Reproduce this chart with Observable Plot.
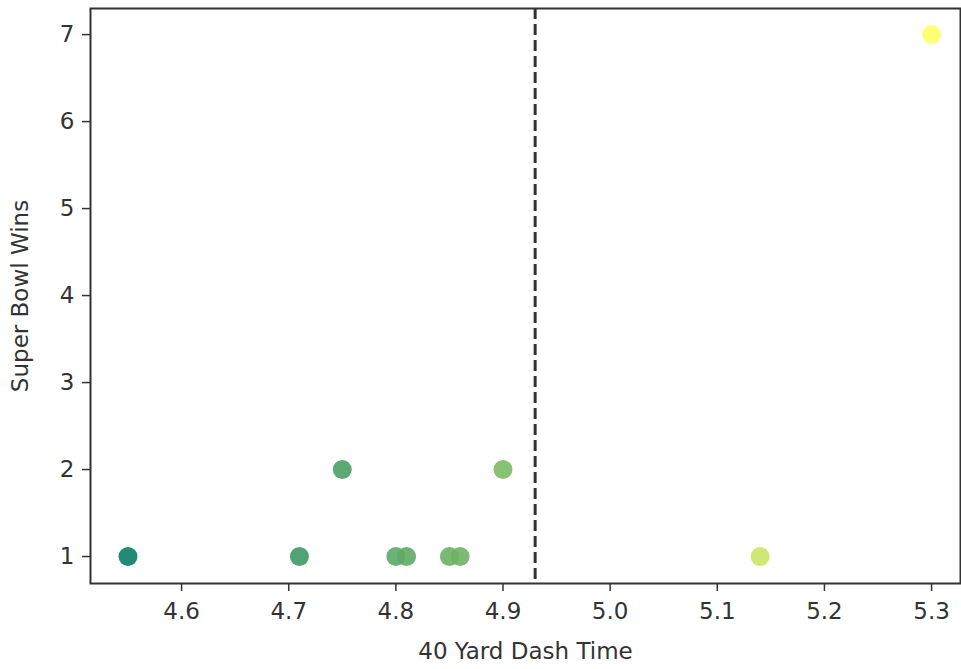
<!DOCTYPE html>
<html>
<head>
<meta charset="utf-8">
<script src="https://cdn.jsdelivr.net/npm/d3@7"></script>
<script src="https://cdn.jsdelivr.net/npm/@observablehq/plot@0.6"></script>
<style>
  html, body { margin: 0; padding: 0; background: #fff; }
</style>
</head>
<body>
<div id="chart"></div>
<script>
const dashTimes = [4.55, 4.71, 4.75, 4.80, 4.81, 4.85, 4.86, 4.90, 5.14, 5.30];
const superBowlWins = [1, 1, 2, 1, 1, 1, 1, 2, 1, 7];
const thresholdTime = [4.93];
const xTicks = [4.6, 4.7, 4.8, 4.9, 5.0, 5.1, 5.2, 5.3];
const yTicks = [1, 2, 3, 4, 5, 6, 7];

const data = dashTimes.map((t, i) => ({time: t, wins: superBowlWins[i]}));

const chart = Plot.plot({
  width: 961,
  height: 669,
  marginLeft: 90,
  marginTop: 8,
  marginBottom: 86,
  marginRight: 1,
  style: {fontFamily: "DejaVu Sans", fontSize: "23px", color: "#333", background: "#fff"},
  x: {domain: [4.515, 5.327]},
  y: {domain: [0.69, 7.3]},
  color: {type: "linear", domain: [4.55, 5.3], range: ["#0a7d66", "#ffff66"], interpolate: "rgb"},
  marks: [
    Plot.axisX({ticks: xTicks, tickFormat: d3.format(".1f"), tickSize: 8, tickPadding: 11, strokeWidth: 1.5,
      label: "40 Yard Dash Time", labelAnchor: "center", labelArrow: "none", labelOffset: 75}),
    Plot.axisY({ticks: yTicks, tickFormat: d3.format("d"), tickSize: 8, tickPadding: 8, strokeWidth: 1.5,
      label: "Super Bowl Wins", labelAnchor: "center", labelArrow: "none", labelOffset: 79}),
    Plot.ruleX(thresholdTime, {stroke: "#333", strokeWidth: 3, strokeDasharray: "11,5"}),
    Plot.dot(data, {x: "time", y: "wins", fill: "time", r: 9.5, fillOpacity: 0.9}),
    Plot.frame({stroke: "#333", strokeWidth: 2})
  ]
});
document.getElementById("chart").appendChild(chart);
</script>
</body>
</html>
